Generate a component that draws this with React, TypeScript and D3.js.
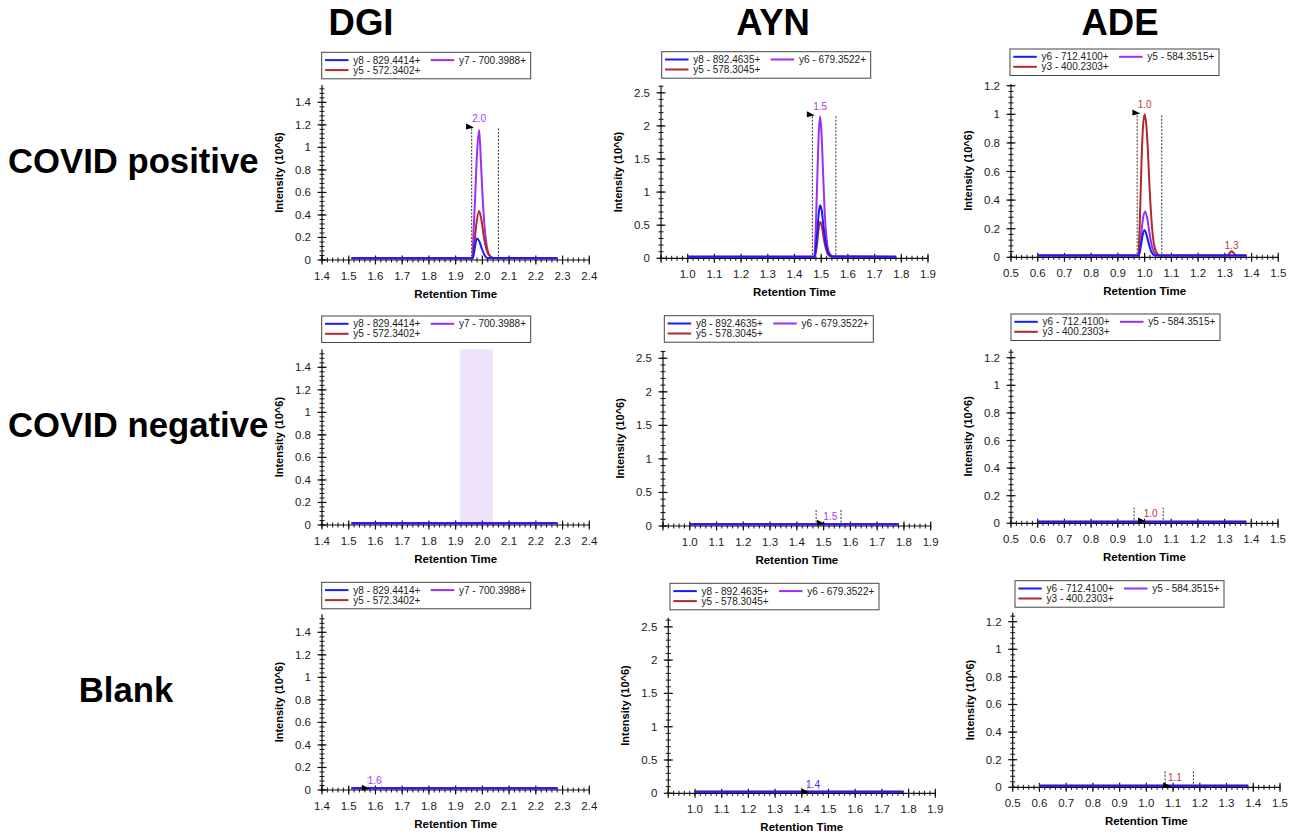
import React, { useEffect, useRef } from 'react';
import * as d3 from 'd3';

type Pt = [number, number];

// titles
const columnTitles = ['DGI', 'AYN', 'ADE'];
const rowTitles = ['COVID positive', 'COVID negative', 'Blank'];

// legend entries (order: blue, purple, red)
const dgiLegend = ['y8 - 829.4414+', 'y7 - 700.3988+', 'y5 - 572.3402+'];
const aynLegend = ['y8 - 892.4635+', 'y6 - 679.3522+', 'y5 - 578.3045+'];
const adeLegend = ['y6 - 712.4100+', 'y5 - 584.3515+', 'y3 - 400.2303+'];
const seriesColors = ['#1a1aff', '#9a30f5', '#b02a2a'];

// axis ticks
const dgiXTicks = [1.4, 1.5, 1.6, 1.7, 1.8, 1.9, 2.0, 2.1, 2.2, 2.3, 2.4];
const aynXTicks = [1.0, 1.1, 1.2, 1.3, 1.4, 1.5, 1.6, 1.7, 1.8, 1.9];
const adeXTicks = [0.5, 0.6, 0.7, 0.8, 0.9, 1.0, 1.1, 1.2, 1.3, 1.4, 1.5];
const dgiYTicks = [0, 0.2, 0.4, 0.6, 0.8, 1, 1.2, 1.4];
const aynYTicks = [0, 0.5, 1, 1.5, 2, 2.5];
const adeYTicks = [0, 0.2, 0.4, 0.6, 0.8, 1, 1.2];

// COVID positive traces (retention time, intensity 10^6)
const dgiPosY8: Pt[] = [[1.51, 0.015], [1.964, 0.015], [1.970, 0.08], [1.979, 0.19], [1.988, 0.17], [1.998, 0.1], [2.008, 0.045], [2.018, 0.018], [2.28, 0.015]];
const dgiPosY7: Pt[] = [[1.51, 0.015], [1.962, 0.015], [1.968, 0.3], [1.974, 0.62], [1.980, 0.95], [1.988, 1.155], [1.994, 0.9], [2.000, 0.6], [2.008, 0.3], [2.016, 0.13], [2.026, 0.045], [2.04, 0.017], [2.28, 0.015]];
const dgiPosY5: Pt[] = [[1.51, 0.015], [1.963, 0.015], [1.970, 0.15], [1.978, 0.33], [1.988, 0.435], [1.996, 0.36], [2.006, 0.2], [2.016, 0.09], [2.028, 0.035], [2.045, 0.016], [2.28, 0.015]];

const aynPosY8: Pt[] = [[1.0, 0.025], [1.475, 0.025], [1.481, 0.2], [1.487, 0.5], [1.492, 0.72], [1.496, 0.8], [1.502, 0.72], [1.508, 0.5], [1.515, 0.28], [1.522, 0.13], [1.530, 0.055], [1.542, 0.026], [1.78, 0.025]];
const aynPosY6: Pt[] = [[1.0, 0.025], [1.474, 0.025], [1.480, 0.5], [1.486, 1.3], [1.491, 1.9], [1.496, 2.14], [1.501, 1.9], [1.507, 1.3], [1.513, 0.7], [1.520, 0.3], [1.528, 0.1], [1.538, 0.04], [1.55, 0.025], [1.78, 0.025]];
const aynPosY5: Pt[] = [[1.0, 0.025], [1.476, 0.025], [1.482, 0.14], [1.488, 0.35], [1.492, 0.5], [1.496, 0.55], [1.502, 0.49], [1.508, 0.34], [1.515, 0.19], [1.522, 0.09], [1.530, 0.04], [1.54, 0.026], [1.78, 0.025]];

const adePosY6: Pt[] = [[0.6, 0.012], [0.978, 0.012], [0.986, 0.08], [0.993, 0.16], [1.0, 0.19], [1.008, 0.15], [1.016, 0.09], [1.026, 0.035], [1.038, 0.013], [1.38, 0.012]];
const adePosY5: Pt[] = [[0.6, 0.012], [0.977, 0.012], [0.985, 0.12], [0.993, 0.26], [1.002, 0.32], [1.010, 0.27], [1.018, 0.17], [1.028, 0.07], [1.04, 0.022], [1.05, 0.012], [1.38, 0.012]];
const adePosY3: Pt[] = [[0.6, 0.012], [0.976, 0.012], [0.982, 0.25], [0.988, 0.65], [0.994, 0.92], [1.0, 1.0], [1.006, 0.93], [1.012, 0.75], [1.018, 0.5], [1.026, 0.25], [1.034, 0.1], [1.044, 0.035], [1.056, 0.013], [1.31, 0.012], [1.318, 0.03], [1.325, 0.042], [1.333, 0.03], [1.342, 0.013], [1.38, 0.012]];

// negative / blank traces are flat baselines
const dgiFlat: Pt[] = [[1.51, 0.015], [2.28, 0.015]];
const aynFlat: Pt[] = [[1.0, 0.025], [1.78, 0.025]];
const adeFlat: Pt[] = [[0.6, 0.012], [1.38, 0.012]];

// peak annotations (data coordinates)
type Marks = {
    bounds?: [number, number];
    boundTop?: number;
    faint?: boolean;
    arrow?: Pt;
    labels?: { at: Pt; text: string; color: string }[];
    band?: [number, number];
};
const purpleLabel = '#a040f0';
const redLabel = '#c03a3a';
const blueLabel = '#3333ff';

const dgiPosMarks: Marks = { bounds: [1.96, 2.06], boundTop: 1.17, arrow: [1.939, 1.18], labels: [{ at: [1.988, 1.226], text: '2.0', color: purpleLabel }] };
const aynPosMarks: Marks = { bounds: [1.467, 1.555], boundTop: 2.15, arrow: [1.446, 2.17], labels: [{ at: [1.496, 2.233], text: '1.5', color: purpleLabel }] };
const adePosMarks: Marks = { bounds: [0.972, 1.064], boundTop: 1.0, arrow: [0.954, 1.01], labels: [{ at: [1.0, 1.044], text: '1.0', color: redLabel }, { at: [1.325, 0.058], text: '1.3', color: redLabel }] };
const dgiNegMarks: Marks = { band: [1.917, 2.039] };
const aynNegMarks: Marks = { bounds: [1.472, 1.565], boundTop: 0.25, arrow: [1.475, 0.04], labels: [{ at: [1.525, 0.09], text: '1.5', color: purpleLabel }] };
const adeNegMarks: Marks = { bounds: [0.961, 1.07], boundTop: 0.113, arrow: [0.976, 0.017], labels: [{ at: [1.023, 0.046], text: '1.0', color: redLabel }] };
const dgiBlankMarks: Marks = { bounds: [1.572, 1.623], boundTop: 0.12, faint: true, arrow: [1.549, 0.015], labels: [{ at: [1.597, 0.053], text: '1.6', color: purpleLabel }] };
const aynBlankMarks: Marks = { bounds: [1.422, 1.464], boundTop: 0.2, faint: true, arrow: [1.398, 0.024], labels: [{ at: [1.442, 0.08], text: '1.4', color: blueLabel }] };
const adeBlankMarks: Marks = { bounds: [1.07, 1.176], boundTop: 0.118, arrow: [1.063, 0.012], labels: [{ at: [1.107, 0.046], text: '1.1', color: redLabel }] };

const columns = [
    { legend: dgiLegend, xDomain: [1.4, 2.4], xTicks: dgiXTicks, yTicks: dgiYTicks, yMinor: 0.04 },
    { legend: aynLegend, xDomain: [0.9, 1.9], xTicks: aynXTicks, yTicks: aynYTicks, yMinor: 0.1 },
    { legend: adeLegend, xDomain: [0.5, 1.5], xTicks: adeXTicks, yTicks: adeYTicks, yMinor: 0.04 },
];

const panels = [
    { col: 0, ax: 322, by: 260, x1: 589.3, top: 85, yTop: 1.554, lg: [321.7, 52.3], series: [dgiPosY8, dgiPosY7, dgiPosY5], marks: dgiPosMarks },
    { col: 1, ax: 661, by: 258.3, x1: 928, top: 85.7, yTop: 2.607, lg: [661.7, 51.7], series: [aynPosY8, aynPosY6, aynPosY5], marks: aynPosMarks },
    { col: 2, ax: 1011, by: 257.3, x1: 1278.3, top: 84, yTop: 1.212, lg: [1010, 49], series: [adePosY6, adePosY5, adePosY3], marks: adePosMarks },
    { col: 0, ax: 322, by: 525, x1: 589.3, top: 349.3, yTop: 1.56, lg: [321.7, 316], series: [dgiFlat, dgiFlat, dgiFlat], marks: dgiNegMarks },
    { col: 1, ax: 663, by: 526, x1: 930.7, top: 350.7, yTop: 2.613, lg: [664.3, 315.7], series: [aynFlat, aynFlat, aynFlat], marks: aynNegMarks },
    { col: 2, ax: 1011, by: 523.3, x1: 1278, top: 349.3, yTop: 1.261, lg: [1011, 314], series: [adeFlat, adeFlat, adeFlat], marks: adeNegMarks },
    { col: 0, ax: 322, by: 790, x1: 589.3, top: 614.3, yTop: 1.56, lg: [321.7, 582.3], series: [dgiFlat, dgiFlat, dgiFlat], marks: dgiBlankMarks },
    { col: 1, ax: 668.3, by: 793.3, x1: 935.3, top: 617.7, yTop: 2.637, lg: [670, 583.3], series: [aynFlat, aynFlat, aynFlat], marks: aynBlankMarks },
    { col: 2, ax: 1012.7, by: 787.3, x1: 1280, top: 612.7, yTop: 1.265, lg: [1015, 580.7], series: [adeFlat, adeFlat, adeFlat], marks: adeBlankMarks },
];

const FONT = "'Liberation Sans', Arial, sans-serif";

const App = () => {
    const svgRef = useRef<SVGSVGElement>(null);

    useEffect(() => {
        const width = 1298;
        const height = 832;

        d3.select(svgRef.current).selectAll('*').remove();

        const svg = d3.select(svgRef.current)
            .attr('width', width)
            .attr('height', height)
            .attr('viewBox', `0 0 ${width} ${height}`)
            .style('font-family', FONT);

        svg.append('rect').attr('width', width).attr('height', height).attr('fill', '#fff');

        // column headers
        const headerX = [361, 773, 1120];
        columnTitles.forEach((t, i) => {
            svg.append('text')
                .attr('x', headerX[i])
                .attr('y', 35)
                .attr('text-anchor', 'middle')
                .style('font-size', '36.5px')
                .style('font-weight', 'bold')
                .text(t);
        });

        // row labels
        const rowY = [173, 437, 702];
        const rowX = [8, 8, 126];
        rowTitles.forEach((t, i) => {
            svg.append('text')
                .attr('x', rowX[i])
                .attr('y', rowY[i])
                .attr('text-anchor', i === 2 ? 'middle' : 'start')
                .style('font-size', '34.7px')
                .style('font-weight', 'bold')
                .text(t);
        });

        panels.forEach(p => {
            const c = columns[p.col];
            const x = d3.scaleLinear().domain(c.xDomain).range([p.ax, p.x1]);
            const y = d3.scaleLinear().domain([0, p.yTop]).range([p.by, p.top]);
            const g = svg.append('g');

            // shaded integration band
            if (p.marks.band) {
                g.append('rect')
                    .attr('x', x(p.marks.band[0]))
                    .attr('y', p.top)
                    .attr('width', x(p.marks.band[1]) - x(p.marks.band[0]))
                    .attr('height', p.by - p.top)
                    .attr('fill', '#eee1fa');
            }

            // x axis
            g.append('line')
                .attr('x1', p.ax).attr('x2', p.x1)
                .attr('y1', p.by).attr('y2', p.by)
                .attr('stroke', '#111').attr('stroke-width', 1.2);
            const xMinor = d3.range(c.xDomain[0], c.xDomain[1] + 0.001, 0.02);
            xMinor.forEach(v => {
                g.append('line')
                    .attr('x1', x(v)).attr('x2', x(v))
                    .attr('y1', p.by - 2.5).attr('y2', p.by + 2.5)
                    .attr('stroke', '#111').attr('stroke-width', 1);
            });
            d3.range(c.xDomain[0], c.xDomain[1] + 0.001, 0.1).forEach(v => {
                g.append('line')
                    .attr('x1', x(v)).attr('x2', x(v))
                    .attr('y1', p.by - 4.5).attr('y2', p.by + 4.5)
                    .attr('stroke', '#111').attr('stroke-width', 1.2);
            });
            c.xTicks.forEach(v => {
                g.append('text')
                    .attr('x', x(v))
                    .attr('y', p.by + 19.5)
                    .attr('text-anchor', 'middle')
                    .attr('fill', '#1c1c1c')
                    .style('font-size', '11.5px')
                    .text(v.toFixed(1));
            });
            g.append('text')
                .attr('x', (p.ax + p.x1) / 2)
                .attr('y', p.by + 38)
                .attr('text-anchor', 'middle')
                .style('font-size', '11.5px')
                .style('font-weight', 'bold')
                .text('Retention Time');

            // y axis
            g.append('line')
                .attr('x1', p.ax).attr('x2', p.ax)
                .attr('y1', p.by).attr('y2', p.top)
                .attr('stroke', '#111').attr('stroke-width', 1.2);
            d3.range(0, p.yTop, c.yMinor).forEach(v => {
                g.append('line')
                    .attr('x1', p.ax - 2.5).attr('x2', p.ax + 2.5)
                    .attr('y1', y(v)).attr('y2', y(v))
                    .attr('stroke', '#111').attr('stroke-width', 1);
            });
            c.yTicks.forEach(v => {
                g.append('line')
                    .attr('x1', p.ax - 4.5).attr('x2', p.ax + 4.5)
                    .attr('y1', y(v)).attr('y2', y(v))
                    .attr('stroke', '#111').attr('stroke-width', 1.2);
                g.append('text')
                    .attr('x', p.ax - 11)
                    .attr('y', y(v) + 4)
                    .attr('text-anchor', 'end')
                    .attr('fill', '#1c1c1c')
                    .style('font-size', '11.5px')
                    .text(String(v));
            });
            const midY = (p.by + p.top) / 2;
            g.append('text')
                .attr('transform', `translate(${p.ax - 39},${midY}) rotate(-90)`)
                .attr('text-anchor', 'middle')
                .style('font-size', '11px')
                .style('font-weight', 'bold')
                .text('Intensity (10^6)');

            // integration boundaries
            const m = p.marks;
            if (m.bounds && m.boundTop !== undefined) {
                m.bounds.forEach(b => {
                    g.append('line')
                        .attr('x1', x(b)).attr('x2', x(b))
                        .attr('y1', p.by).attr('y2', y(m.boundTop as number))
                        .attr('stroke', m.faint ? '#c4c4d8' : '#333')
                        .attr('stroke-width', 1)
                        .attr('stroke-dasharray', '2,1.5');
                });
            }

            // traces: purple, red, then blue on top
            const line = d3.line<Pt>()
                .x(d => x(d[0]))
                .y(d => y(d[1]))
                .curve(d3.curveMonotoneX);
            [1, 2, 0].forEach(i => {
                g.append('path')
                    .attr('d', line(p.series[i]))
                    .attr('fill', 'none')
                    .attr('stroke', seriesColors[i])
                    .attr('stroke-width', 2)
                    .attr('stroke-linejoin', 'round');
            });

            // peak arrow
            if (m.arrow) {
                const ax = x(m.arrow[0]);
                const ay = y(m.arrow[1]);
                g.append('path')
                    .attr('d', `M${ax},${ay - 3.5} L${ax + 8},${ay + 0.5} L${ax},${ay + 2.5} Z`)
                    .attr('fill', '#000');
            }

            // peak labels
            (m.labels || []).forEach(l => {
                g.append('text')
                    .attr('x', x(l.at[0]))
                    .attr('y', y(l.at[1]))
                    .attr('text-anchor', 'middle')
                    .attr('fill', l.color)
                    .style('font-size', '10px')
                    .text(l.text);
            });

            // legend
            const [lx, ly] = p.lg;
            const lg = g.append('g').attr('transform', `translate(${lx},${ly})`);
            lg.append('rect')
                .attr('x', 0).attr('y', 0)
                .attr('width', 209).attr('height', 26.5)
                .attr('fill', '#fff')
                .attr('stroke', '#444')
                .attr('stroke-width', 1);
            const slots = [[3.3, 7.8], [109, 7.8], [3.3, 17.8]];
            c.legend.forEach((name, i) => {
                const [sx, sy] = slots[i];
                lg.append('line')
                    .attr('x1', sx).attr('x2', sx + 23.5)
                    .attr('y1', sy).attr('y2', sy)
                    .attr('stroke', seriesColors[i])
                    .attr('stroke-width', 2);
                lg.append('text')
                    .attr('x', sx + 28.3)
                    .attr('y', sy + 3.5)
                    .attr('fill', '#222')
                    .style('font-size', '10px')
                    .text(name);
            });
        });
    }, []);

    return (
        <div style={{ position: 'absolute', left: 0, top: 0 }}>
            <svg ref={svgRef}></svg>
        </div>
    );
};

export default App;
